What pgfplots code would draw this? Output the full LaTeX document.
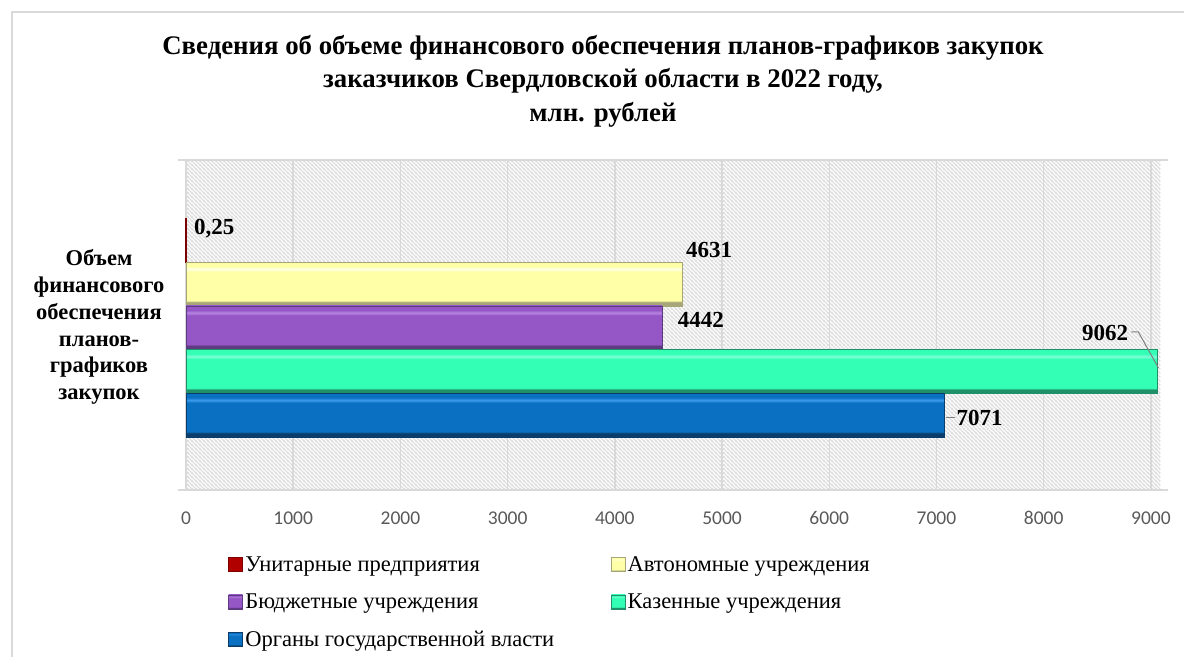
\documentclass[border=0pt]{standalone}
\usepackage{fontspec}
\setmainfont{Liberation Serif}
\newfontfamily\carlito{Carlito}
\usepackage{pgfplots}
\pgfplotsset{compat=1.18}
\usetikzlibrary{patterns}
\pgfdeclarepatternformonly{hatchNW}{\pgfqpoint{-1bp}{-1bp}}{\pgfqpoint{5bp}{5bp}}{\pgfqpoint{4bp}{4bp}}{%
  \pgfsetlinewidth{1.2bp}%
  \pgfpathmoveto{\pgfqpoint{-0.5bp}{4.5bp}}\pgfpathlineto{\pgfqpoint{4.5bp}{-0.5bp}}%
  \pgfpathmoveto{\pgfqpoint{-0.5bp}{0.5bp}}\pgfpathlineto{\pgfqpoint{0.5bp}{-0.5bp}}%
  \pgfpathmoveto{\pgfqpoint{3.5bp}{4.5bp}}\pgfpathlineto{\pgfqpoint{4.5bp}{3.5bp}}%
  \pgfusepath{stroke}}
\definecolor{gridc}{HTML}{D9D9D9}
\definecolor{frame}{HTML}{D9D9D9}
\definecolor{tickc}{HTML}{595959}
\definecolor{hatchc}{HTML}{DEDEDE}
% yellow
\definecolor{yM}{HTML}{FFFFA8}\definecolor{yL}{HTML}{FFFFE2}\definecolor{yD}{HTML}{A6A676}
% purple
\definecolor{pM}{HTML}{9556C6}\definecolor{pL}{HTML}{B785E0}\definecolor{pD}{HTML}{5E3A80}
% green
\definecolor{gM}{HTML}{33FFB5}\definecolor{gL}{HTML}{80FFD8}\definecolor{gD}{HTML}{1F9068}
% blue
\definecolor{bM}{HTML}{0A70C2}\definecolor{bL}{HTML}{3A9BEA}\definecolor{bD}{HTML}{0B3D6A}
\definecolor{rM}{HTML}{B00000}
\pgfdeclareverticalshading{bevelY}{100bp}{color(0bp)=(yD); color(25bp)=(yD); color(29bp)=(yD); color(31bp)=(yM); color(64bp)=(yM); color(67bp)=(yL); color(70bp)=(yM); color(75bp)=(yM); color(100bp)=(yM)}
\pgfdeclareverticalshading{bevelP}{100bp}{color(0bp)=(pD); color(25bp)=(pD); color(29bp)=(pD); color(31bp)=(pM); color(64bp)=(pM); color(67bp)=(pL); color(70bp)=(pM); color(75bp)=(pM); color(100bp)=(pM)}
\pgfdeclareverticalshading{bevelG}{100bp}{color(0bp)=(gD); color(25bp)=(gD); color(29bp)=(gD); color(31bp)=(gM); color(64bp)=(gM); color(67bp)=(gL); color(70bp)=(gM); color(75bp)=(gM); color(100bp)=(gM)}
\pgfdeclareverticalshading{bevelB}{100bp}{color(0bp)=(bD); color(25bp)=(bD); color(29bp)=(bD); color(31bp)=(bM); color(64bp)=(bM); color(67bp)=(bL); color(70bp)=(bM); color(75bp)=(bM); color(100bp)=(bM)}
\begin{document}
\begin{tikzpicture}
\path[use as bounding box] (0bp,0bp) rectangle (1184bp,-657bp);
\draw[frame, line width=2bp] (12bp,-700bp) -- (12bp,-12bp) -- (1250bp,-12bp);
\node[align=center, font=\bfseries\fontsize{26.8bp}{33.5bp}\selectfont] at (603bp,-81bp)
  {Сведения об объеме финансового обеспечения планов-графиков закупок\\
   заказчиков Свердловской области в 2022 году,\\
   млн. рублей};
\node[align=center, font=\bfseries\fontsize{22.5bp}{26.8bp}\selectfont] at (99bp,-327bp)
  {Объем\\финансового\\обеспечения\\планов-\\графиков\\закупок};
\begin{axis}[
  at={(186bp,-490bp)}, anchor=south west, scale only axis,
  width=974bp, height=330bp,
  xmin=0, xmax=9085, ymin=-1.716, ymax=5.835,
  xbar, bar width=1, bar shift=0pt,
  axis line style={draw=none},
  axis background/.style={pattern=hatchNW, pattern color=hatchc},
  xtick={0,1000,...,9000}, xmajorgrids,
  ytick={-1.716,5.835}, yticklabels={}, ymajorgrids,
  grid style={draw=gridc, line width=1.5bp},
  major tick length=8bp, tick align=outside,
  xtick style={draw=none},
  ytick style={draw=gridc, line width=1.5bp},
  /pgf/number format/.cd, assume math mode=true, use comma, 1000 sep={},
  /pgfplots/.cd,
  ticklabel style={font=\carlito\fontsize{19.5bp}{21bp}\selectfont, text=tickc},
  xticklabel style={yshift=-10bp},
  nodes near coords style={font=\bfseries\fontsize{23bp}{25bp}\selectfont, text=black},
  clip=false,
  legend columns=2,
  legend cell align=left,
  legend style={at={(0.043,-0.195)}, anchor=north west, draw=none, fill=none,
     inner sep=0pt, outer sep=0pt,
     font=\fontsize{22.5bp}{25bp}\selectfont, row sep=17bp,
     nodes={inner sep=2bp},
     /tikz/every even column/.append style={column sep=55bp}},
  legend image code/.code={\path[#1] (0bp,-7bp) rectangle (14bp,7bp);},
]
\addplot[fill=rM, draw=rM!70!black, line width=1.5bp, bar shift=0pt,
  nodes near coords, every node near coord/.append style={anchor=west, xshift=4bp, yshift=12bp}]
  coordinates {(0.25,4)};
\addlegendentry{Унитарные предприятия}
\addplot[shading=bevelY, draw=yD, bar shift=0pt,
  nodes near coords, every node near coord/.append style={anchor=west, xshift=0bp, yshift=34bp}]
  coordinates {(4631,3)};
\addlegendentry{Автономные учреждения}
\addplot[shading=bevelP, draw=pD, bar shift=0pt,
  nodes near coords, every node near coord/.append style={anchor=west, xshift=12bp, yshift=8bp}]
  coordinates {(4442,2)};
\addlegendentry{Бюджетные учреждения}
\addplot[shading=bevelG, draw=gD, bar shift=0pt,
  nodes near coords, every node near coord/.append style={anchor=east, xshift=-26bp, yshift=38bp}]
  coordinates {(9062,1)};
\addlegendentry{Казенные учреждения}
\addplot[shading=bevelB, draw=bD, bar shift=0pt,
  nodes near coords, every node near coord/.append style={anchor=west, xshift=9bp, yshift=-3bp}]
  coordinates {(7071,0)};
\addlegendentry{Органы государственной власти}
\draw[gray, line width=1bp] (axis cs:8818,1.90) -- (axis cs:8883,1.90) -- (axis cs:9070,1.08);
\draw[gray, line width=1bp] (axis cs:7091,-0.05) -- (axis cs:7175,-0.05);
\end{axis}
\end{tikzpicture}
\end{document}
